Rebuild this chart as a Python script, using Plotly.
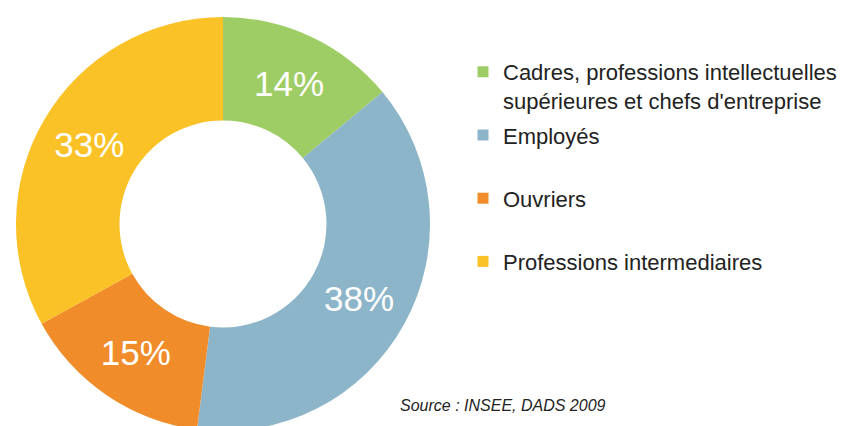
import plotly.graph_objects as go

# data
categories = [
    "Cadres, professions intellectuelles<br>supérieures et chefs d'entreprise",
    "Employés",
    "Ouvriers",
    "Professions intermediaires",
]
shares = [14, 38, 15, 33]
colors = ["#9fcd65", "#8db5ca", "#f08c2a", "#fbc228"]
source = "Source : INSEE, DADS 2009"

FONT = "Liberation Sans, Arial, sans-serif"
W, H = 849, 426
OFF = 8  # page body margin shifts the figure by this much

def px_x(x):
    return (x - OFF) / W

def px_y(y):
    return (H - (y - OFF)) / H

fig = go.Figure()

# the donut
fig.add_trace(go.Pie(
    labels=categories,
    values=shares,
    hole=0.5,
    sort=False,
    direction="clockwise",
    rotation=0,
    marker=dict(colors=colors, line=dict(width=0)),
    texttemplate="%{value}%",
    textposition="inside",
    insidetextorientation="horizontal",
    textfont=dict(family=FONT, size=35, color="white"),
    hoverinfo="label+percent",
    showlegend=False,
    domain=dict(x=[px_x(16), px_x(430)], y=[px_y(431), px_y(17)]),
))

# legend entries, one group each so the rows can be spaced evenly
for i, (cat, col) in enumerate(zip(categories, colors)):
    label = cat if "<br>" in cat else cat + "<br>\u00a0"
    fig.add_trace(go.Scatter(
        x=[None], y=[None], mode="markers",
        marker=dict(symbol="square", size=11, color=col),
        name=label, legendgroup=str(i), showlegend=True, hoverinfo="skip",
    ))

# source note
fig.add_annotation(text="<i>" + source + "</i>", xref="paper", yref="paper",
                   x=px_x(398), y=px_y(405), xanchor="left", yanchor="middle",
                   showarrow=False,
                   font=dict(family=FONT, size=16, color="#222222"))

fig.update_layout(
    width=W, height=H,
    margin=dict(l=0, r=0, t=0, b=0),
    paper_bgcolor="white", plot_bgcolor="white",
    xaxis=dict(visible=False), yaxis=dict(visible=False),
    showlegend=True,
    legend=dict(x=px_x(463), y=px_y(51), xanchor="left", yanchor="top",
                valign="top", traceorder="grouped", tracegroupgap=3,
                font=dict(family=FONT, size=22, color="#222222"),
                bgcolor="rgba(0,0,0,0)"),
)

fig.write_html("out.html")
